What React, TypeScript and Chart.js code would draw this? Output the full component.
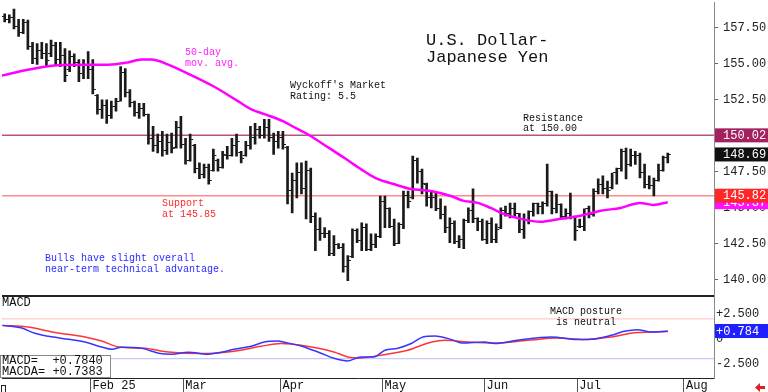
import { useEffect, useRef } from 'react';
import { Chart, registerables } from 'chart.js';
Chart.register(...registerables);

// Daily bars (index 0 = first January session shown)
const highs = [
  158.47, 158.4, 158.8, 158.1, 158.1, 158.05, 156.5, 156.4, 156.5, 156.4,
  156.65, 156.5, 156.5, 156.05, 155.9, 155.7, 155.3, 155.3, 155.85, 155.3,
  152.85, 152.5, 152.5, 152.4, 152.6, 154.8, 154.66, 153.2, 152.4, 152.25,
  152.25, 151.5, 150.65, 150.1, 150.3, 150.1, 150.17, 151.0, 151.34, 149.82,
  150.1, 149.4, 148.1, 148.02, 148.02, 149.06, 148.37, 148.9, 149.26, 149.82,
  150.1, 148.9, 149.6, 150.65, 150.86, 150.65, 151.13, 151.13, 150.17, 150.3,
  150.3, 149.26, 147.4, 148.1, 148.1, 148.23, 147.74, 144.63, 144.28, 143.6,
  143.4, 143.04, 142.48, 142.48, 141.65, 143.52, 143.52, 143.94, 143.86, 143.17,
  143.17, 145.8, 145.8, 144.97, 144.2, 143.94, 146.15, 146.15, 148.57, 148.43,
  147.67, 146.7, 146.15, 146.0, 145.6, 145.1, 144.28, 144.07, 143.04, 144.2,
  144.97, 146.3, 144.28, 144.2, 144.07, 144.28, 143.86, 144.97, 145.1, 145.3,
  145.3, 144.6, 144.56, 144.77, 145.3, 145.3, 145.4, 148.02, 146.15, 145.94,
  145.25, 144.9, 146.0, 144.4, 144.2, 144.9, 145.1, 146.3, 147.0, 147.2,
  146.84, 147.4, 147.74, 149.06, 149.13, 149.06, 148.9, 148.78, 148.02, 147.2,
  147.05, 148.02, 148.57, 148.78,
];
const lows = [
  157.92, 157.85, 157.43, 156.9, 157.1, 156.0, 155.0, 154.95, 155.35, 154.8,
  155.5, 154.94, 154.8, 153.75, 154.45, 154.8, 153.75, 153.97, 153.97, 152.9,
  151.5, 151.2, 150.85, 151.2, 151.7, 152.4, 152.7, 152.0, 151.35, 151.2,
  151.35, 149.4, 148.9, 148.8, 148.57, 148.7, 148.8, 149.13, 149.13, 148.02,
  148.23, 147.4, 147.0, 147.05, 146.63, 147.53, 147.53, 147.74, 148.37, 148.57,
  148.57, 148.1, 148.57, 149.06, 149.4, 149.82, 149.82, 149.6, 148.7, 149.13,
  149.06, 145.25, 144.63, 145.66, 145.94, 144.2, 143.94, 142.0, 142.7, 142.9,
  141.65, 141.65, 142.14, 140.5, 139.9, 141.5, 142.55, 142.0, 142.0, 142.0,
  142.2, 142.9, 143.6, 143.6, 142.34, 142.48, 143.52, 144.97, 145.6, 146.7,
  145.94, 145.1, 144.97, 144.77, 144.2, 143.24, 142.55, 142.48, 142.2, 142.14,
  143.94, 143.94, 143.38, 142.7, 142.48, 142.55, 142.55, 143.52, 144.4, 144.28,
  144.4, 143.24, 142.84, 143.86, 144.4, 144.56, 144.56, 145.1, 144.56, 144.63,
  144.28, 144.2, 144.2, 142.7, 143.6, 143.38, 144.28, 144.4, 145.94, 145.94,
  145.66, 146.3, 146.63, 147.53, 146.98, 147.88, 148.0, 147.05, 146.36, 146.3,
  145.8, 146.84, 147.53, 148.1,
];
const opens = [
  158.3, 158.1, 158.25, 157.6, 157.2, 157.9, 156.2, 155.4, 155.9, 155.7,
  155.7, 156.3, 155.3, 155.6, 154.6, 155.5, 155.1, 154.3, 154.9, 154.6,
  152.8, 151.8, 152.1, 151.4, 152.0, 152.4, 154.4, 153.0, 152.3, 151.6,
  151.9, 151.5, 149.8, 149.3, 149.6, 149.0, 149.5, 149.2, 150.6, 149.4,
  148.3, 149.3, 147.7, 147.3, 147.8, 147.6, 148.3, 147.8, 148.6, 148.6,
  149.3, 148.8, 148.6, 149.3, 149.9, 150.4, 150.0, 150.6, 149.9, 149.6,
  149.9, 149.2, 146.2, 146.9, 147.4, 146.3, 147.6, 144.4, 143.5, 143.2,
  143.2, 141.8, 142.4, 142.2, 140.9, 141.6, 143.4, 142.7, 143.6, 142.1,
  142.4, 143.0, 145.4, 144.9, 143.7, 142.5, 143.8, 145.8, 145.7, 148.3,
  147.5, 146.6, 145.7, 145.7, 144.9, 144.5, 143.6, 143.9, 142.6, 142.8,
  144.1, 144.8, 144.2, 144.0, 142.8, 143.9, 142.8, 143.6, 144.8, 144.6,
  144.9, 144.6, 143.5, 144.1, 144.7, 145.3, 145.1, 145.3, 146.1, 144.9,
  145.2, 144.4, 144.6, 144.4, 143.7, 143.7, 144.9, 144.5, 146.1, 146.6,
  146.3, 146.4, 147.4, 147.7, 148.9, 148.0, 148.6, 148.6, 147.4, 146.6,
  146.5, 146.9, 147.6, 148.5,
];
const closes = [
  158.1, 158.25, 157.6, 157.2, 157.9, 156.2, 155.4, 155.9, 155.7, 155.2,
  156.3, 155.3, 155.6, 154.2, 155.5, 155.1, 154.3, 154.9, 154.6, 153.2,
  151.8, 152.1, 151.4, 152.0, 152.4, 154.4, 153.0, 152.3, 151.6, 151.9,
  151.5, 149.8, 149.3, 149.6, 149.0, 149.5, 149.1, 150.6, 149.4, 148.3,
  149.7, 147.7, 147.3, 147.8, 146.9, 148.6, 147.8, 148.7, 148.6, 149.3,
  149.6, 148.4, 149.3, 149.9, 150.4, 150.0, 150.6, 149.9, 149.6, 149.9,
  149.4, 146.2, 146.9, 147.4, 146.3, 147.6, 144.4, 143.5, 143.2, 143.2,
  141.8, 142.4, 142.2, 140.9, 141.3, 143.4, 142.7, 143.6, 142.1, 142.4,
  143.0, 145.4, 144.9, 143.7, 142.5, 143.8, 145.8, 145.4, 148.3, 147.5,
  146.7, 145.7, 145.7, 144.9, 144.5, 143.6, 143.9, 142.6, 142.8, 144.1,
  144.8, 144.2, 144.0, 142.8, 143.9, 142.8, 143.5, 144.8, 144.6, 144.9,
  144.6, 143.5, 144.1, 144.7, 145.3, 145.1, 145.3, 146.1, 144.9, 145.2,
  144.4, 144.6, 144.4, 143.4, 143.7, 144.9, 144.5, 146.1, 146.6, 146.3,
  146.2, 147.4, 147.7, 148.9, 148.0, 148.6, 148.6, 147.4, 146.6, 146.5,
  146.9, 147.6, 148.5, 148.69,
];

// 50-day moving average (read at sample positions)
const maIdx = [-0.6, 5.2, 10.2, 16.6, 22.4, 26.3, 29.5, 31.7, 35.3, 39.6, 45.2, 50.4, 53.2, 56, 60.1, 62.9, 65.7, 70, 73.6, 76.8, 80, 83.9, 87.6, 91.9, 96.2, 99, 102, 104.8, 107.6, 111.3, 115.5, 119.9, 124.2, 128.5, 132.8, 137, 139.9, 143];
const maVals = [154.18, 154.6, 154.87, 154.94, 154.94, 155.08, 155.3, 155.3, 154.94, 154.3, 153.4, 152.38, 151.83, 151.5, 150.99, 150.5, 150.03, 149.13, 148.37, 147.67, 147.05, 146.63, 146.29, 146.15, 145.8, 145.46, 145.32, 144.97, 144.56, 144.21, 144.0, 144.21, 144.42, 144.77, 144.97, 145.32, 145.18, 145.37];

// MACD (blue) and MACDA signal (red)
const macdIdx = [-0.5, 3.7, 6.5, 9.5, 13.8, 17.3, 20.9, 23.1, 25.2, 29.5, 33.2, 36, 39.6, 43.9, 46.7, 49.5, 53.2, 56, 59, 60.3, 63.9, 68.2, 71, 74, 76.8, 79.6, 82, 84.8, 87.8, 90.2, 92.8, 96.4, 98.6, 103.5, 105.7, 110.6, 117.9, 123.5, 126.5, 130.8, 133.6, 136.4, 139.4, 143];
const macdVals = [1.35, 1.08, 0.55, 0.25, -0.05, -0.32, -0.82, -1.05, -0.85, -0.95, -1.45, -1.55, -1.35, -1.55, -1.35, -1.05, -0.75, -0.32, -0.22, -0.35, -0.72, -1.45, -1.95, -2.22, -1.82, -1.82, -1.15, -0.95, -0.45, 0.18, 0.28, -0.08, -0.42, -0.32, -0.48, -0.15, 0.18, -0.08, -0.05, 0.35, 0.75, 0.92, 0.68, 0.784];
const sigIdx = [-0.5, 5.2, 10.2, 17.3, 20.9, 24.6, 30.2, 35.3, 42.4, 49.5, 55.3, 59.6, 63.9, 71, 74, 76.8, 81.1, 86.9, 92.1, 94.9, 99.9, 105.7, 112.8, 119.2, 125, 130.8, 135.8, 139.4, 143];
const sigVals = [1.35, 1.18, 0.68, 0.18, -0.22, -0.82, -0.95, -1.32, -1.48, -1.25, -0.75, -0.48, -0.65, -1.32, -1.82, -1.92, -1.65, -1.15, -0.32, -0.15, -0.32, -0.42, -0.15, 0.08, -0.08, 0.18, 0.62, 0.68, 0.738];

const MONTH_POS = [18.5, 38.5, 59.5, 81.5, 103.5, 123.5, 146.5];
const MONTH_LABELS = ['Feb 25', 'Mar', 'Apr', 'May', 'Jun', 'Jul', 'Aug'];
const PRICE_TICKS = [140, 142.5, 145, 147.5, 150, 152.5, 155, 157.5];
const MACD_TICKS = [-2.5, 0, 2.5];
const MACD_BANDS = [2, -2];
const RESISTANCE = 150.02;
const SUPPORT = 145.82;
const LAST_CLOSE = 148.69;
const MA_LAST = 145.37;
const MACD_LAST = 0.784;
const MACD_TEXT = 'MACD=  +0.7840';
const MACDA_TEXT = 'MACDA= +0.7383';

const X_MIN = -0.58;
const X_MAX = 152.97;
const Y_MIN = 138.81;
const Y_MAX = 159.3;
const M_MIN = -3.94;
const M_MAX = 4.26;

const MONO = '"Liberation Mono", "DejaVu Sans Mono", monospace';

function hline(ctx: CanvasRenderingContext2D, x1: number, x2: number, y: number, color: string, w: number) {
  ctx.beginPath();
  ctx.strokeStyle = color;
  ctx.lineWidth = w;
  ctx.moveTo(x1, y);
  ctx.lineTo(x2, y);
  ctx.stroke();
}

function texts(ctx: CanvasRenderingContext2D, lines: string[], x: number, y: number, lh: number, color: string, size: number) {
  ctx.fillStyle = color;
  ctx.font = `${size}px ${MONO}`;
  ctx.textAlign = 'left';
  ctx.textBaseline = 'middle';
  lines.forEach((t, i) => ctx.fillText(t, x, y + i * lh));
}

function noPad(s: any) {
  s.paddingTop = 0;
  s.paddingBottom = 0;
  s.paddingLeft = 0;
  s.paddingRight = 0;
}

function tickImage(from: number, color: string) {
  const c = document.createElement('canvas');
  c.width = 8;
  c.height = 1;
  const g = c.getContext('2d')!;
  g.fillStyle = color;
  g.fillRect(from, 0, 2, 1);
  return c;
}

const overlay = {
  id: 'overlay',
  beforeDatasetsDraw(chart: any) {
    const { ctx, chartArea } = chart;
    const y = chart.scales.y;
    const y2 = chart.scales.y2;
    ctx.save();
    hline(ctx, chartArea.left, chartArea.right, y.getPixelForValue(RESISTANCE), '#b9527f', 1.5);
    hline(ctx, chartArea.left, chartArea.right, y.getPixelForValue(SUPPORT), '#ff8c8c', 1.5);
    hline(ctx, chartArea.left, chartArea.right, y2.getPixelForValue(MACD_BANDS[0]), '#ffbcbc', 1);
    hline(ctx, chartArea.left, chartArea.right, y2.getPixelForValue(MACD_BANDS[1]), '#bcbcff', 1);
    ctx.restore();
  },
  afterDraw(chart: any) {
    const { ctx, chartArea, width } = chart;
    const y = chart.scales.y;
    const y2 = chart.scales.y2;
    ctx.save();
    // panel separator
    hline(ctx, chartArea.left, chartArea.right, y2.top - 0.5, '#222', 2);

    // annotations
    texts(ctx, ['U.S. Dollar-', 'Japanese Yen'], 426, 40, 17, '#111', 17);
    texts(ctx, ['50-day', 'mov. avg.'], 185, 52, 11, '#ff22ff', 10);
    texts(ctx, ["Wyckoff's Market", 'Rating: 5.5'], 290, 85, 11, '#111', 10);
    texts(ctx, ['Resistance', 'at 150.00'], 523, 118, 10.5, '#111', 10);
    texts(ctx, ['Support', 'at 145.85'], 162, 203.5, 10.5, '#ff2a2a', 10);
    texts(ctx, ['Bulls have slight overall', 'near-term technical advantage.'], 45, 258.5, 10.5, '#2a2aff', 10);
    texts(ctx, ['MACD posture', ' is neutral'], 550, 311.5, 11, '#111', 10);
    texts(ctx, ['MACD'], 2, 303, 11, '#111', 12);

    // MACD value legend box
    ctx.fillStyle = '#fff';
    ctx.fillRect(0, 355, 110, 23);
    ctx.strokeStyle = '#888';
    ctx.lineWidth = 1;
    ctx.strokeRect(0.5, 355.5, 110, 22);
    texts(ctx, [MACD_TEXT, MACDA_TEXT], 2, 360.5, 11, '#111', 12);

    // value boxes on the right axis
    const box = (py: number, bg: string, label: string) => {
      ctx.fillStyle = bg;
      ctx.fillRect(chartArea.right + 1, py - 7, width - chartArea.right - 1, 14);
      texts(ctx, [label], 723, py + 0.5, 12, '#fff', 12);
    };
    box(y.getPixelForValue(MA_LAST), '#ff10ff', MA_LAST.toFixed(2));
    box(y.getPixelForValue(SUPPORT), '#ff2828', SUPPORT.toFixed(2));
    box(y.getPixelForValue(LAST_CLOSE), '#111', LAST_CLOSE.toFixed(2));
    box(y.getPixelForValue(RESISTANCE), '#a3215e', RESISTANCE.toFixed(2));
    const mb = y2.getPixelForValue(MACD_LAST);
    ctx.fillStyle = '#1f1fff';
    ctx.fillRect(chartArea.right + 1, mb - 7, width - chartArea.right - 1, 14);
    texts(ctx, ['+' + MACD_LAST.toFixed(3)], 716, mb + 0.5, 12, '#fff', 12);

    // small corner marks
    ctx.strokeStyle = '#222';
    ctx.lineWidth = 1;
    ctx.strokeRect(1.5, 385.5, 4, 8);
    ctx.fillStyle = '#e02020';
    ctx.beginPath();
    ctx.moveTo(755, 387.5);
    ctx.lineTo(760, 383);
    ctx.lineTo(760, 386);
    ctx.lineTo(765, 386);
    ctx.lineTo(765, 389);
    ctx.lineTo(760, 389);
    ctx.lineTo(760, 392);
    ctx.closePath();
    ctx.fill();
    ctx.restore();
  },
};

export default function App() {
  const ref = useRef<HTMLCanvasElement>(null);
  useEffect(() => {
    const canvas = ref.current!;
    const closeTick = tickImage(5, '#151515');
    const openTick = tickImage(1, '#151515');

    const barData = highs.map((h, i) => ({ x: i, y: [lows[i], h] }));
    const openData = opens.map((o, i) => ({ x: i, y: o }));
    const closeData = closes.map((c, i) => ({ x: i, y: c }));
    const maData = maIdx.map((x, i) => ({ x, y: maVals[i] }));
    const macdData = macdIdx.map((x, i) => ({ x, y: macdVals[i] }));
    const sigData = sigIdx.map((x, i) => ({ x, y: sigVals[i] }));

    const font = { family: MONO, size: 12 };

    const chart = new Chart(canvas, {
      type: 'bar',
      data: {
        datasets: [
          {
            type: 'line', data: maData, yAxisID: 'y', borderColor: '#ff00ff', borderWidth: 2.5,
            pointRadius: 0, tension: 0.4, cubicInterpolationMode: 'monotone',
          } as any,
          {
            type: 'line', data: closeData, yAxisID: 'y', showLine: false, pointStyle: closeTick,
            pointRadius: 1, pointHoverRadius: 1,
          } as any,
          {
            type: 'line', data: openData, yAxisID: 'y', showLine: false, pointStyle: openTick,
            pointRadius: 1, pointHoverRadius: 1,
          } as any,
          {
            type: 'bar', data: barData, yAxisID: 'y', backgroundColor: '#1a1a1a', barThickness: 2,
            borderWidth: 0, borderSkipped: false, grouped: false,
          } as any,
          {
            type: 'line', data: macdData, yAxisID: 'y2', borderColor: '#3535ff', borderWidth: 1.5,
            pointRadius: 0, tension: 0.4, cubicInterpolationMode: 'monotone',
          } as any,
          {
            type: 'line', data: sigData, yAxisID: 'y2', borderColor: '#ff3535', borderWidth: 1.5,
            pointRadius: 0, tension: 0.4, cubicInterpolationMode: 'monotone',
          } as any,
        ],
      },
      options: {
        animation: false,
        responsive: false,
        maintainAspectRatio: false,
        events: [],
        layout: { padding: 0 },
        plugins: { legend: { display: false }, tooltip: { enabled: false } },
        scales: {
          x: {
            type: 'linear', position: 'bottom', min: X_MIN, max: X_MAX, offset: false,
            afterBuildTicks: (s: any) => { s.ticks = MONTH_POS.map((v) => ({ value: v })); },
            afterFit: (s: any) => { s.height = 14; noPad(s); },
            grid: { drawOnChartArea: false, offset: false, tickLength: 14, color: '#555', lineWidth: 1 },
            border: { display: true, color: '#222', width: 1 },
            ticks: {
              autoSkip: false, maxRotation: 0, minRotation: 0, align: 'start', padding: -13, labelOffset: 2,
              font, color: '#111',
              callback: (_v: any, i: number) => MONTH_LABELS[i],
            },
          },
          y: {
            type: 'linear', position: 'right', stack: 'panels', stackWeight: 296, min: Y_MIN, max: Y_MAX,
            afterBuildTicks: (s: any) => { s.ticks = PRICE_TICKS.map((v) => ({ value: v })); },
            afterFit: (s: any) => { s.width = 54; noPad(s); },
            grid: { drawOnChartArea: false, tickLength: 4, color: '#666' },
            border: { display: true, color: '#8a8a8a', width: 1 },
            ticks: { padding: 5, font, color: '#222', callback: (v: any) => Number(v).toFixed(2) },
          },
          y2: {
            type: 'linear', position: 'right', stack: 'panels', stackWeight: 82, min: M_MIN, max: M_MAX,
            afterBuildTicks: (s: any) => { s.ticks = MACD_TICKS.map((v) => ({ value: v })); },
            afterFit: (s: any) => { s.width = 54; noPad(s); },
            grid: { drawOnChartArea: false, drawTicks: false },
            border: { display: true, color: '#8a8a8a', width: 1 },
            ticks: {
              padding: 2, font, color: '#222',
              callback: (v: any) => (v > 0 ? '+' + Number(v).toFixed(3) : v < 0 ? Number(v).toFixed(3) : '0'),
            },
          },
        },
      } as any,
      plugins: [overlay],
    });
    return () => chart.destroy();
  }, []);

  return (
    <div style={{ position: 'fixed', left: 0, top: 0, width: 768, height: 392, background: '#fff' }}>
      <canvas ref={ref} width={768} height={392} style={{ width: 768, height: 392, display: 'block' }} />
    </div>
  );
}
